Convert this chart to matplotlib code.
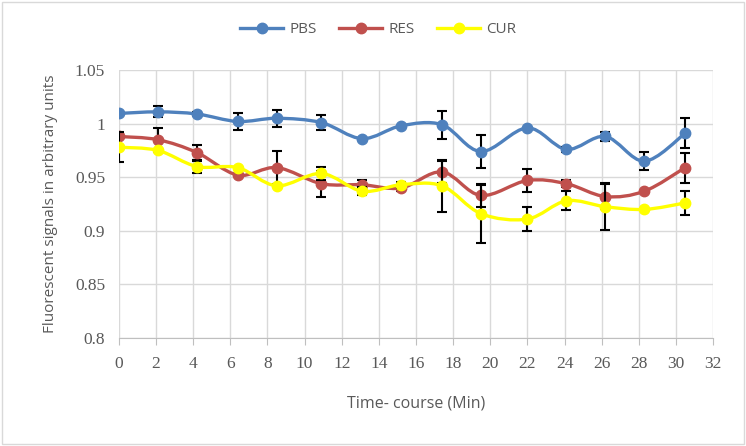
import numpy as np
import matplotlib.pyplot as plt
from matplotlib.path import Path
from matplotlib.patches import PathPatch, Rectangle
from matplotlib.lines import Line2D

plt.rcParams['font.family'] = ['Open Sans', 'DejaVu Sans']

# data
time_min = [0, 2.1, 4.2, 6.4, 8.5, 10.9, 13.1, 15.2, 17.4, 19.5, 22.0, 24.1, 26.2, 28.3, 30.5]
pbs = [1.0095, 1.011, 1.009, 1.002, 1.005, 1.001, 0.986, 0.998, 0.999, 0.974, 0.996, 0.976, 0.988, 0.965, 0.991]
pbs_err = [0, 0.005, 0.002, 0.0075, 0.008, 0.007, 0, 0, 0.013, 0.0155, 0, 0.002, 0.004, 0.0085, 0.014]
res = [0.988, 0.985, 0.973, 0.952, 0.959, 0.944, 0.943, 0.940, 0.955, 0.933, 0.947, 0.944, 0.932, 0.937, 0.959]
res_err = [0, 0.011, 0.007, 0, 0.0155, 0.012, 0.004, 0.003, 0.010, 0.011, 0.011, 0.003, 0.012, 0, 0.014]
cur = [0.978, 0.975, 0.960, 0.959, 0.942, 0.9535, 0.937, 0.943, 0.942, 0.916, 0.911, 0.928, 0.9225, 0.920, 0.926]
cur_err = [0.014, 0, 0.0056, 0, 0, 0.006, 0.004, 0.003, 0.024, 0.027, 0.0115, 0.009, 0.022, 0, 0.011]

series = [("PBS", pbs, pbs_err, "#4F81BD"),
          ("RES", res, res_err, "#C0504D"),
          ("CUR", cur, cur_err, "#FFFF00")]

x_ticks = list(range(0, 33, 2))
y_ticks = [0.8, 0.85, 0.9, 0.95, 1.0, 1.05]
y_tick_labels = ["0.8", "0.85", "0.9", "0.95", "1", "1.05"]

text_col = "#595959"
grid_col = "#D9D9D9"


def smooth_path(xs, ys):
    # bezier segments through the points (Excel style smoothed line)
    p = np.column_stack([xs, ys])
    n = len(p)
    verts = [p[0]]
    codes = [Path.MOVETO]
    for i in range(n - 1):
        p0 = p[i - 1] if i > 0 else p[i]
        p3 = p[i + 2] if i + 2 < n else p[i + 1]
        c1 = p[i] + (p[i + 1] - p0) / 6
        c2 = p[i + 1] - (p3 - p[i]) / 6
        verts += [c1, c2, p[i + 1]]
        codes += [Path.CURVE4] * 3
    return Path(verts, codes)


fig = plt.figure(figsize=(7.46, 4.46), dpi=100)
ax = fig.add_axes([0.1595, 0.242, 0.7963, 0.601])

for k, (name, vals, errs, col) in enumerate(series):
    z = 3 + k
    ax.add_patch(PathPatch(smooth_path(time_min, vals), facecolor="none",
                           edgecolor=col, lw=2.4, zorder=z, capstyle="round"))
    xs = np.array(time_min)
    ys = np.array(vals)
    es = np.array(errs)
    m = es > 0
    ax.errorbar(xs[m], ys[m], yerr=es[m], fmt="none", ecolor="black",
                elinewidth=1.5, capsize=3.5, capthick=1.5, zorder=z)
    ax.plot(xs, ys, "o", color=col, markersize=7.5, zorder=z + 0.5)

ax.set_xlim(0, 32)
ax.set_ylim(0.8, 1.05)
ax.set_xticks(x_ticks)
ax.set_yticks(y_ticks, y_tick_labels)
ax.grid(True, color=grid_col, lw=1)
ax.set_axisbelow(True)
for s in ["top", "right", "left"]:
    ax.spines[s].set_visible(False)
ax.spines["bottom"].set_color("#BFBFBF")
ax.tick_params(axis="y", length=0, pad=10, labelsize=12.5, labelcolor=text_col,
               labelfontfamily="Liberation Serif")
ax.tick_params(axis="x", length=5, color="#BFBFBF", pad=8, labelsize=12.5, labelcolor=text_col,
               labelfontfamily="Liberation Serif")

ax.set_xlabel("Time- course (Min)", fontsize=11.5, color=text_col, labelpad=17)
ax.set_ylabel("Fluorescent signals in arbitrary units", fontsize=11, color=text_col, labelpad=12)

handles = [Line2D([0], [0], color=col, lw=2.4, marker="o", markersize=7.5)
           for _, _, _, col in series]
fig.legend(handles, [s[0] for s in series], loc="center", bbox_to_anchor=(0.507, 0.933),
           ncol=3, frameon=False, fontsize=11, labelcolor=text_col,
           handlelength=2.8, columnspacing=1.5, handletextpad=0.4)

fig.patches.append(Rectangle((0.003, 0.004), 0.994, 0.992, transform=fig.transFigure,
                             fill=False, edgecolor="#D9D9D9", lw=1))

fig.savefig("out.png", dpi=100)
